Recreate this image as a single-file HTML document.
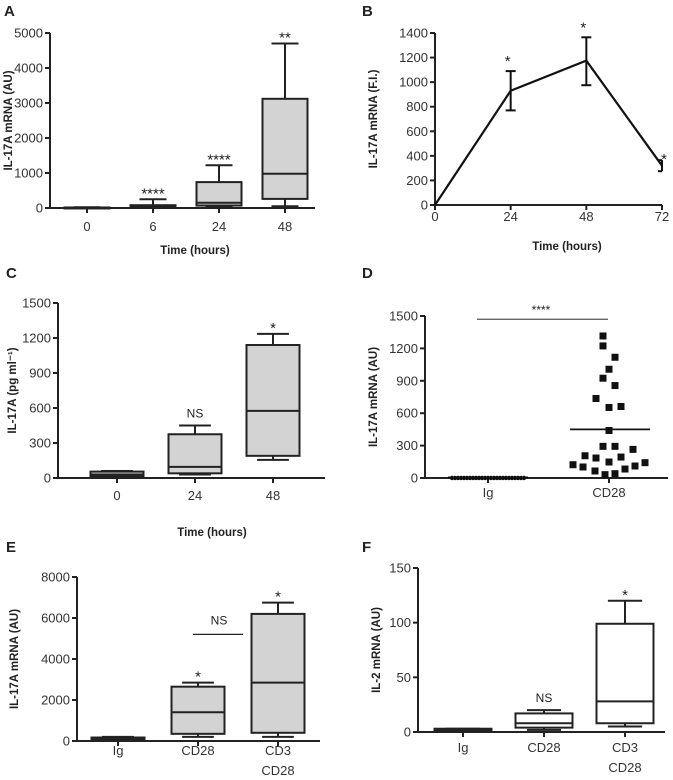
<!DOCTYPE html>
<html><head><meta charset="utf-8"><style>
html,body{margin:0;padding:0;background:#fff}
svg{display:block;font-family:"Liberation Sans",Arial,sans-serif}
</style></head><body>
<svg id="fig" width="673" height="780" viewBox="0 0 673 780"></svg>
<script>
// Panel A
const aCats=["0","6","24","48"];
const aLo=[0,0,20,50],aQ1=[5,20,70,260],aMed=[10,40,150,980],aQ3=[15,80,740,3120],aHi=[20,250,1220,4700];
const aSig=["","****","****","**"];
const aTicks=[0,1000,2000,3000,4000,5000];
// Panel B
const bX=[0,24,48,72],bY=[0,930,1175,320],bLo=[0,770,975,275],bHi=[0,1090,1365,365];
const bSig=["","*","*","*"];
const bYTicks=[0,200,400,600,800,1000,1200,1400],bXTicks=[0,24,48,72];
// Panel C
const cCats=["0","24","48"];
const cLo=[10,30,155],cQ1=[15,40,190],cMed=[30,95,575],cQ3=[55,375,1140],cHi=[60,450,1235];
const cSig=["","NS","*"];
const cTicks=[0,300,600,900,1200,1500];
// Panel D
const dCats=["Ig","CD28"];
const dIg=[0,0,0,0,0,0,0,0,0,0,0,0,0,0,0,0,0,0,0,0,0,0,0,0,0];
const dCD28=[1315,1223,1118,1007,924,856,736,653,662,440,293,293,265,206,185,148,194,123,102,142,111,65,83,31,40];
const dJit=[-6,-6,6,0,-6,6,-13,0,12,0,-6,6,24,-24,-13,0,12,-36,-26,36,26,-14,16,-4,6];
const dMean=[5,450];
const dTicks=[0,300,600,900,1200,1500];
// Panel E
const eCats=[["Ig"],["CD28"],["CD3","CD28"]];
const eLo=[0,200,200],eQ1=[50,350,400],eMed=[100,1400,2850],eQ3=[170,2650,6200],eHi=[200,2850,6750];
const eSig=["","*","*"];
const eTicks=[0,2000,4000,6000,8000];
// Panel F
const fCats=[["Ig"],["CD28"],["CD3","CD28"]];
const fLo=[1,2,5],fQ1=[1.5,4,8],fMed=[2,8,28],fQ3=[3,17,99],fHi=[3,20,120];
const fSig=["","NS","*"];
const fTicks=[0,50,100,150];

const NS="http://www.w3.org/2000/svg";
const svg=document.getElementById('fig');
function mk(tag,at,parent){const e=document.createElementNS(NS,tag);for(const k in at)e.setAttribute(k,at[k]);(parent||svg).appendChild(e);return e;}
function txt(s,x,y,size,weight,anchor,parent,rot){const t=mk('text',{x:x,y:y,'font-size':size,'font-weight':weight,'text-anchor':anchor,fill:'#222'},parent);if(rot)t.setAttribute('transform','rotate(-90 '+x+' '+y+')');t.textContent=s;return t;}

function panel(o){
  const g=mk('g',{});
  
  
  const ys=v=>o.y0-(v-o.vmin)/(o.vmax-o.vmin)*(o.y0-o.y1);
  const lab=txt(o.letter,o.lx,o.ly,15,'bold','start',g);
  
  const ax=mk('g',{stroke:'#222','stroke-width':2,fill:'none'},g);
  
  mk('line',{x1:o.ax,y1:o.y1,x2:o.ax,y2:o.y0+1},ax);
  mk('line',{x1:o.ax-1,y1:o.y0,x2:o.xend,y2:o.y0},ax);
  o.ticks.forEach(v=>{const y=ys(v);mk('line',{x1:o.ax-5,y1:y,x2:o.ax,y2:y},ax);
    const t=txt(String(v),o.ax-7,y+4.5,13,'normal','end',g);t.setAttribute('fill','#333');
    });
  const yt=txt(o.ytitle,o.ytx,(o.y0+o.y1)/2,11.5,'bold','middle',g,true);
  
  if(o.xtitle){const xt=txt(o.xtitle,o.xtx,o.xty,11.5,'bold','middle',g);}
  return {g,ys,ax};
}
function boxes(p,o){
  o.cats.forEach((c,i)=>{
    const cx=o.cx0+i*o.step,ys=p.ys,w=o.bw;
    const b=mk('g',{stroke:'#222','stroke-width':2},p.g);
    
    mk('line',{x1:cx,y1:ys(o.hi[i]),x2:cx,y2:ys(o.lo[i])},b);
    mk('line',{x1:cx-w*0.3,y1:ys(o.hi[i]),x2:cx+w*0.3,y2:ys(o.hi[i])},b);
    mk('line',{x1:cx-w*0.3,y1:ys(o.lo[i]),x2:cx+w*0.3,y2:ys(o.lo[i])},b);
    mk('rect',{x:cx-w/2,y:ys(o.q3[i]),width:w,height:Math.max(1,ys(o.q1[i])-ys(o.q3[i])),fill:o.fill},b);
    mk('line',{x1:cx-w/2,y1:ys(o.med[i]),x2:cx+w/2,y2:ys(o.med[i])},b);
    mk('line',{x1:cx,y1:o.y0,x2:cx,y2:o.y0+5},p.ax);
    const lines=Array.isArray(c)?c:[c];
    lines.forEach((s,k)=>{const t=txt(s,cx,o.laby+k*20,13,'normal','middle',p.g);t.setAttribute('fill','#333');
      });
    if(o.sig[i]){const t=txt(o.sig[i],cx,ys(o.hi[i])-(o.sig[i]==='NS'?8:7)+(o.sig[i]==='NS'?0:6),o.sig[i]==='NS'?12:15,'normal','middle',p.g);
      }
  });
}

// A
let pA=panel({name:'panel-a',letter:'A',lx:4,ly:16,ax:50,y0:208,y1:33,vmin:0,vmax:5000,xend:315,ticks:aTicks,ytitle:'IL-17A mRNA  (AU)',ytx:12,xtitle:'Time (hours)',xtx:195,xty:254});
boxes(pA,{cats:aCats,cx0:87,step:66,bw:45,lo:aLo,q1:aQ1,med:aMed,q3:aQ3,hi:aHi,sig:aSig,fill:'#d3d3d3',y0:208,laby:231});

// B
let pB=panel({name:'panel-b',letter:'B',lx:362,ly:16,ax:435,y0:205,y1:33,vmin:0,vmax:1400,xend:662,ticks:bYTicks,ytitle:'IL-17A mRNA  (F.I.)',ytx:377,xtitle:'Time (hours)',xtx:567,xty:250});
{const xs=v=>435+v/72*(662-435);
 bXTicks.forEach(v=>{mk('line',{x1:xs(v),y1:205,x2:xs(v),y2:210},pB.ax);const t=txt(String(v),xs(v),221,13,'normal','middle',pB.g);t.setAttribute('fill','#333');
   });
 const pl=mk('polyline',{points:bX.map((x,i)=>xs(x)+','+pB.ys(bY[i])).join(' '),fill:'none',stroke:'#111','stroke-width':2.2},pB.g);
 
 bX.forEach((x,i)=>{if(bHi[i]===bLo[i])return;const e=mk('g',{stroke:'#111','stroke-width':2},pB.g);
   
   const X=xs(x);mk('line',{x1:X,y1:pB.ys(bHi[i]),x2:X,y2:pB.ys(bLo[i])},e);
   const w=i===3?4:5;const x1=i===3?X-w:X-w,x2=i===3?X:X+w;
   mk('line',{x1:x1,y1:pB.ys(bHi[i]),x2:x2,y2:pB.ys(bHi[i])},e);mk('line',{x1:x1,y1:pB.ys(bLo[i]),x2:x2,y2:pB.ys(bLo[i])},e);
   const t=txt(bSig[i],X+(i===3?2:-3),pB.ys(bHi[i])-(i===3?2:11)+6,15,'normal','middle',pB.g);
   });}

// C
let pC=panel({name:'panel-c',letter:'C',lx:6,ly:278,ax:58,y0:478,y1:303,vmin:0,vmax:1500,xend:325,ticks:cTicks,ytitle:'IL-17A (pg ml⁻¹)',ytx:16,xtitle:'Time (hours)',xtx:212,xty:536});
boxes(pC,{cats:cCats,cx0:117,step:78,bw:53,lo:cLo,q1:cQ1,med:cMed,q3:cQ3,hi:cHi,sig:cSig,fill:'#d3d3d3',y0:478,laby:500});

// D
let pD=panel({name:'panel-d',letter:'D',lx:362,ly:278,ax:425,y0:478,y1:316,vmin:0,vmax:1500,xend:668,ticks:dTicks,ytitle:'IL-17A mRNA  (AU)',ytx:377});
{const cx=[488,609];
 dCats.forEach((c,i)=>{mk('line',{x1:cx[i],y1:478,x2:cx[i],y2:483},pD.ax);const t=txt(c,cx[i],497,13,'normal','middle',pD.g);t.setAttribute('fill','#333');
   });
 dIg.forEach((v,i)=>{const d=mk('circle',{cx:452+i*3,cy:pD.ys(v),r:2.2,fill:'#111'},pD.g);
   });
 dCD28.forEach((v,i)=>{const s=mk('rect',{x:cx[1]+dJit[i]-3.5,y:pD.ys(v)-3.5,width:7,height:7,fill:'#111'},pD.g);
   });
 const m=mk('line',{x1:570,y1:pD.ys(dMean[1]),x2:650,y2:pD.ys(dMean[1]),stroke:'#111','stroke-width':1.8},pD.g);
 
 const m0=mk('line',{x1:448,y1:pD.ys(dMean[0]),x2:528,y2:pD.ys(dMean[0]),stroke:'#111','stroke-width':1.8},pD.g);
 
 const sl=mk('line',{x1:477,y1:pD.ys(1470),x2:608,y2:pD.ys(1470),stroke:'#555','stroke-width':1.2},pD.g);
 
 const st=txt('****',541,pD.ys(1470)-5,12,'normal','middle',pD.g);}

// E
let pE=panel({name:'panel-e',letter:'E',lx:6,ly:552,ax:77,y0:741,y1:577,vmin:0,vmax:8000,xend:320,ticks:eTicks,ytitle:'IL-17A mRNA (AU)',ytx:18});
boxes(pE,{cats:eCats,cx0:118,step:80,bw:53,lo:eLo,q1:eQ1,med:eMed,q3:eQ3,hi:eHi,sig:eSig,fill:'#d3d3d3',y0:741,laby:755});
{const l=mk('line',{x1:193,y1:pE.ys(5200),x2:243,y2:pE.ys(5200),stroke:'#222','stroke-width':1.2},pE.g);
 
 const t=txt('NS',219,pE.ys(5200)-10,12,'normal','middle',pE.g);}

// F
let pF=panel({name:'panel-f',letter:'F',lx:362,ly:552,ax:418,y0:732,y1:568,vmin:0,vmax:150,xend:665,ticks:fTicks,ytitle:'IL-2 mRNA (AU)',ytx:380});
boxes(pF,{cats:fCats,cx0:463,step:81,bw:57,lo:fLo,q1:fQ1,med:fMed,q3:fQ3,hi:fHi,sig:fSig,fill:'#fff',y0:732,laby:752});
</script>
</body></html>
